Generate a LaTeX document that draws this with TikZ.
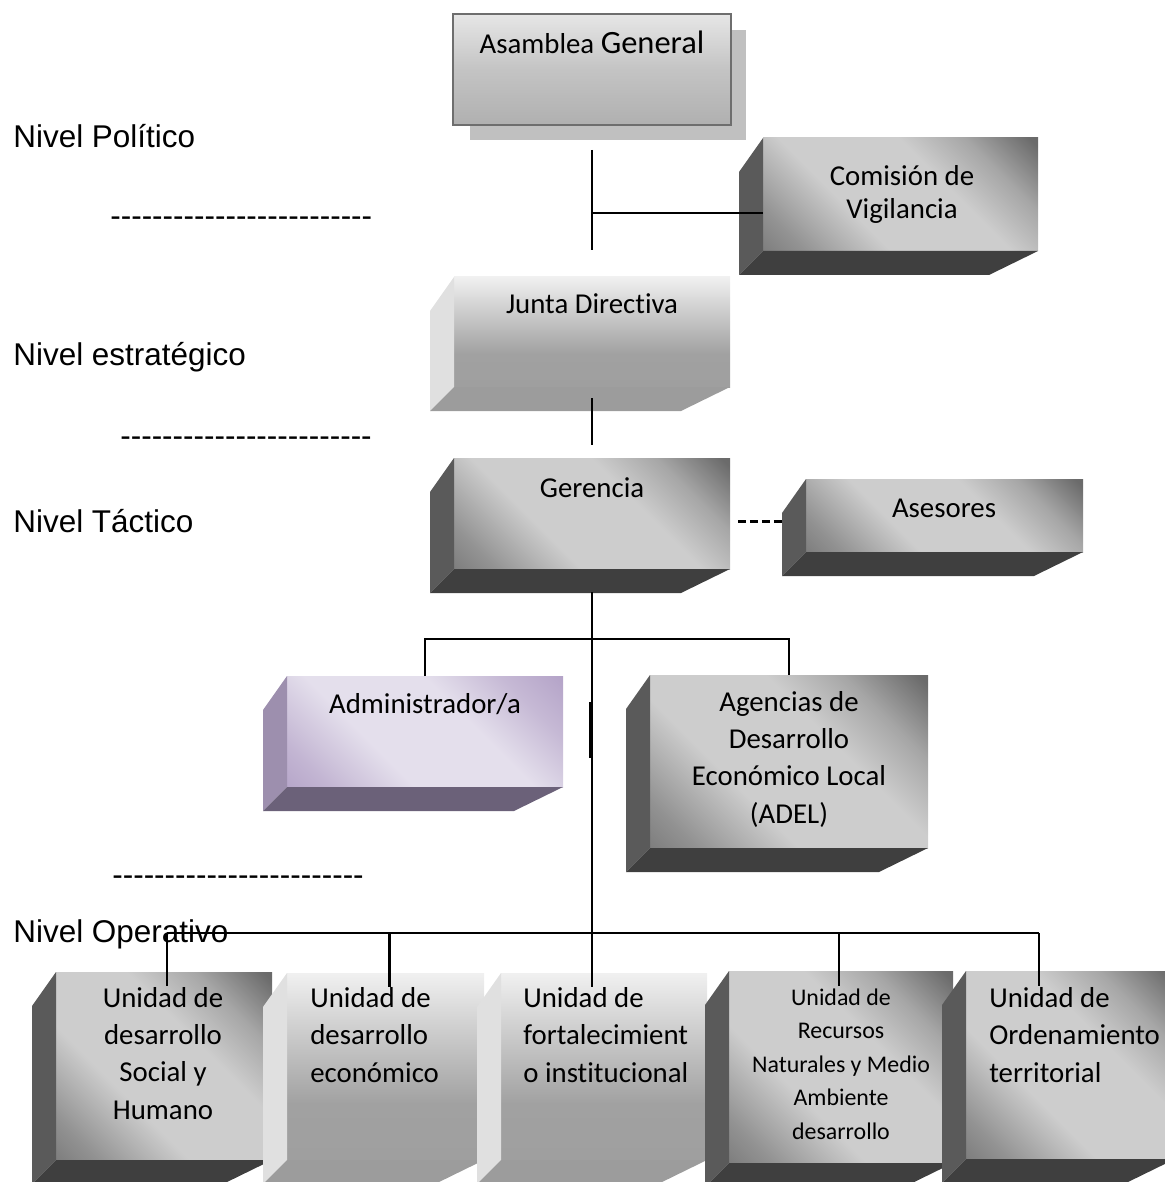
\documentclass[tikz,border=0pt]{standalone}
\usepackage{fontspec}
\newfontfamily\carl[Ligatures=NoCommon]{Carlito}
\newfontfamily\arialf[Ligatures=TeXOff]{Liberation Sans}
\usetikzlibrary{calc, fit}

\definecolor{mtlA}{HTML}{8A8A8A}
\definecolor{mtlB}{HTML}{777777}
\definecolor{mtlL}{HTML}{CDCDCD}
\definecolor{mtlD}{HTML}{5E5E5E}
\definecolor{mtlside}{HTML}{5A5A5A}
\definecolor{mtlbot}{HTML}{3F3F3F}
\definecolor{lilA}{HTML}{BBAACD}
\definecolor{lilB}{HTML}{B3A2C7}
\definecolor{lilL}{HTML}{E4DFEC}
\definecolor{lilD}{HTML}{A894C0}
\definecolor{lilside}{HTML}{9D8FAE}
\definecolor{lilbot}{HTML}{6B6179}
\definecolor{slvside}{HTML}{E0E0E0}
\definecolor{slvbot}{HTML}{9C9C9C}
\definecolor{shadowgray}{HTML}{C0C0C0}
\definecolor{framegray}{HTML}{6E6E6E}

\pgfdeclarehorizontalshading{metalsh}{100bp}{color(0bp)=(mtlA); color(12bp)=(mtlB); color(22bp)=(mtlB!80!white); color(38bp)=(mtlL); color(60bp)=(mtlL); color(72bp)=(mtlD!55!white); color(84bp)=(mtlD!92!white); color(100bp)=(mtlD)}
\pgfdeclarehorizontalshading{lilacsh}{100bp}{color(0bp)=(lilA); color(12bp)=(lilB); color(22bp)=(lilB!80!white); color(38bp)=(lilL); color(60bp)=(lilL); color(74bp)=(lilB!75!white); color(86bp)=(lilB); color(100bp)=(lilD)}
\pgfdeclareverticalshading{silversh}{100bp}{color(0bp)=(slvbot); color(40bp)=(slvbot!95!white); color(62bp)=(slvbot!45!white); color(78bp)=(white!97!black); color(100bp)=(white)}
\pgfdeclareverticalshading{asamsh}{100bp}{color(0bp)=(slvbot); color(50bp)=(slvbot!60!white); color(75bp)=(slvbot!25!white); color(100bp)=(white)}

% side and bottom faces of a box
\newcommand{\boxsides}[3]{%
  \fill[#2] (#1.north west) -- ++(-24,34) -- ([shift={(-24,24)}]#1.south west) -- (#1.south west) -- cycle;
  \fill[#3] (#1.south west) -- (#1.south east) -- ++(-49,24) -- ([shift={(-24,24)}]#1.south west) -- cycle;
}

\tikzset{
  face/.style={inner sep=0pt, outer sep=0pt},
  metal/.style={face, shade, shading=metalsh, shading angle=45},
  lilac/.style={face, shade, shading=lilacsh, shading angle=45},
  silver/.style={face, shade, shading=silversh},
  txt/.style={font={\carl\fontsize{16.4}{21.1}\selectfont}, align=center, anchor=base, inner sep=0pt},
  ltxt/.style={txt, align=left, anchor=base west},
  lvl/.style={font={\arialf\fontsize{17.9}{21}\selectfont}, anchor=base west, inner sep=0pt},
  conn/.style={line width=1.2pt},
}

\begin{document}
\begin{tikzpicture}[x=0.02cm, y=-0.02cm]
  \clip (0,0) rectangle (1165,1182);

  % boxes
  \fill[shadowgray] (470,30) rectangle (746,140);
  \node[face, shade, shading=asamsh, draw=framegray, line width=0.9pt, fit={(453,14) (731,125)}] (asam) {};
  \node[metal, fit={(763,138) (1038,251)}] (comi) {};
  \boxsides{comi}{mtlside}{mtlbot}
  \node[silver, fit={(454,277) (730,387)}] (junta) {};
  \boxsides{junta}{slvside}{slvbot}
  \node[metal, fit={(454,458) (730,569)}] (ger) {};
  \boxsides{ger}{mtlside}{mtlbot}
  \node[metal, fit={(806,479) (1083,552)}] (ases) {};
  \boxsides{ases}{mtlside}{mtlbot}
  \node[lilac, fit={(287,676) (563,787)}] (admin) {};
  \boxsides{admin}{lilside}{lilbot}
  \node[metal, fit={(650,675) (928,848)}] (adel) {};
  \boxsides{adel}{mtlside}{mtlbot}
  \node[metal, fit={(56,972) (272,1160)}] (u1) {};
  \boxsides{u1}{mtlside}{mtlbot}
  \node[silver, fit={(287,973) (484,1160)}] (u2) {};
  \boxsides{u2}{slvside}{slvbot}
  \node[silver, fit={(501,973) (707,1160)}] (u3) {};
  \boxsides{u3}{slvside}{slvbot}
  \node[metal, fit={(729,971) (953,1163)}] (u4) {};
  \boxsides{u4}{mtlside}{mtlbot}
  \node[metal, fit={(966,971) (1175,1159)}] (u5) {};
  \boxsides{u5}{mtlside}{mtlbot}

  % texts (base = last line)
  \node[txt] (asamT) at (592,54) {Asamblea {\fontsize{18.5}{22}\selectfont General}};
  \node[txt, font={\carl\fontsize{16.4}{19.3}\selectfont}] (comiT) at (902,219) {Comisión de\\Vigilancia};
  \node[txt] (juntaT) at (592,314) {Junta Directiva};
  \node[txt] (gerT) at (592,497) {Gerencia};
  \node[txt] (asesT) at (944,517) {Asesores};
  \node[txt] (adminT) at (425,713) {Administrador/a};
  \node[txt] (adelT) at (789,823) {Agencias de\\Desarrollo\\Económico Local\\(ADEL)};
  \node[txt] (u1T) at (163,1119) {Unidad de\\desarrollo\\Social y\\Humano};
  \node[ltxt] (u2T) at (310,1082) {Unidad de\\desarrollo\\económico};
  \node[ltxt] (u3T) at (523,1082) {Unidad de\\fortalecimient\\o institucional};
  \node[txt, font={\carl\fontsize{13.6}{19}\selectfont}] (u4T) at (841,1139) {Unidad de\\Recursos\\Naturales y Medio\\Ambiente\\desarrollo};
  \node[ltxt] (u5T) at (989,1082) {Unidad de\\Ordenamiento\\territorial};

  % levels
  \node[lvl] (lvPol) at (13,148) {Nivel Político};
  \node[lvl] (sepA) at (110,227) {-------------------------};
  \node[lvl] (lvEst) at (13,365) {Nivel estratégico};
  \node[lvl] (sepB) at (120,446) {------------------------};
  \node[lvl] (lvTac) at (13,532) {Nivel Táctico};
  \node[lvl] (sepC) at (112,885) {------------------------};
  \node[lvl] (lvOpe) at (13,942) {Nivel Operativo};

  % connectors
  \coordinate (jA) at ($(asam.south)+(0,88)$);
  \coordinate (jB) at ($(ger.south)+(0,70)$);
  \coordinate (jC) at ($(ger.south)+(0,364)$);
  \draw[conn] ($(asam.south)+(0,25)$) -- ($(junta.north)+(0,-27)$);
  \draw[conn] (jA) -- (jA -| comi.west);
  \draw[conn] ($(junta.south)+(0,11)$) -- ($(ger.north)+(0,-13)$);
  \draw[conn, dash pattern=on 4.5pt off 2.3pt] ($(ger.east)+(8,8)$) -- ($(ases.west)+(-22,6)$);
  \draw[conn] ($(ger.south)+(0,23)$) -- ($(ger.south |- u3.north)+(0,14)$);
  \draw[conn] ($(jB)+(-2,63)$) -- ++(0,56);
  \draw[conn] (admin.north) -- (admin.north |- jB) -- (adel.north |- jB) -- (adel.north);
  \coordinate (d1) at ($(u1.north)+(3,14)$);
  \coordinate (d2) at ($(u2.north)+(4,14)$);
  \coordinate (d4) at ($(u4.north)+(-2,15)$);
  \coordinate (d5) at ($(u5.north west)+(73,15)$);
  \draw[conn] (d1 |- jC) -- (d5 |- jC);
  \foreach \d in {d1, d2, d4, d5}
    \draw[conn] (\d |- jC) -- (\d);
\end{tikzpicture}
\end{document}
